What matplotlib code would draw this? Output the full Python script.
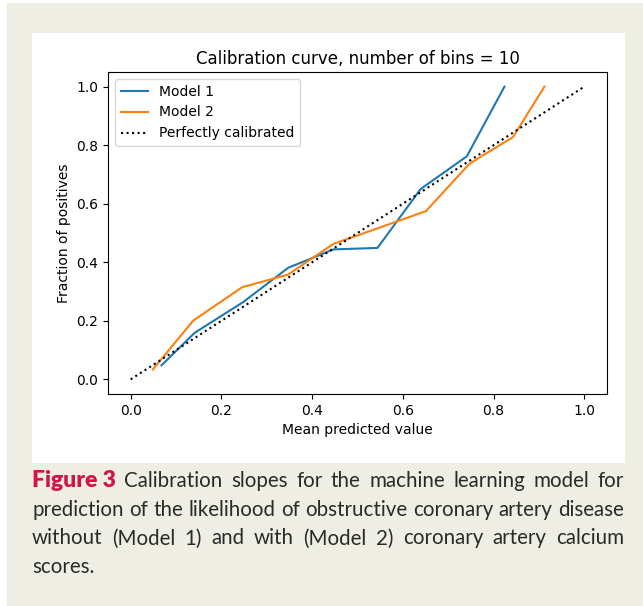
import matplotlib
matplotlib.use("Agg")
import matplotlib.pyplot as plt
from matplotlib.patches import Rectangle
from matplotlib.transforms import IdentityTransform

# calibration data
m1_pred = [0.068, 0.141, 0.248, 0.347, 0.447, 0.544, 0.639, 0.741, 0.824]
m1_frac = [0.048, 0.159, 0.264, 0.381, 0.444, 0.449, 0.650, 0.762, 1.0]
m2_pred = [0.049, 0.138, 0.246, 0.347, 0.447, 0.546, 0.651, 0.747, 0.843, 0.912]
m2_frac = [0.034, 0.201, 0.315, 0.358, 0.463, 0.517, 0.575, 0.737, 0.828, 1.0]
ref_line = [0, 1]

caption_lines = [
    ["Figure 3", "Calibration", "slopes", "for", "the", "machine", "learning", "model", "for"],
    "prediction of the likelihood of obstructive coronary artery disease".split(),
    "without (Model 1) and with (Model 2) coronary artery calcium".split(),
    ["scores."],
]

W, H = 643, 606
fig = plt.figure(figsize=(W / 100, H / 100), dpi=100)
fig.patch.set_facecolor("white")

# beige page and white chart panel
fig.patches.append(Rectangle((7 / W, 0), 1 - 7 / W, 1 - 3 / H, transform=fig.transFigure,
                             facecolor="#efeee4", edgecolor="none", zorder=-2))
fig.patches.append(Rectangle((32 / W, 1 - 463 / H), (625 - 32) / W, (463 - 33) / H,
                             transform=fig.transFigure, facecolor="white", edgecolor="none", zorder=-1))

ax = fig.add_axes([108 / W, 1 - 394 / H, (607 - 108) / W, (394 - 72) / H])
ax.plot(m1_pred, m1_frac, color="#1f77b4", label="Model 1")
ax.plot(m2_pred, m2_frac, color="#ff7f0e", label="Model 2")
ax.plot(ref_line, ref_line, "k:", label="Perfectly calibrated")
ax.set_title("Calibration curve, number of bins = 10")
ax.set_xlabel("Mean predicted value")
ax.set_ylabel("Fraction of positives")
ax.legend(loc="upper left")

# justified caption
renderer = fig.canvas.get_renderer()
x0, x1 = 32, 624
base0, step = H - 487, 28.7
fs = 14.8
for i, words in enumerate(caption_lines):
    y = base0 - i * step
    texts = []
    for j, w in enumerate(words):
        bold = (i == 0 and j == 0)
        t = fig.text(0, y, w, transform=IdentityTransform(), family="Lato",
                     fontsize=16.5 if bold else fs, fontweight="heavy" if bold else "normal",
                     color="#d2144a" if bold else "#2a2a2a", va="baseline", ha="left")
        texts.append(t)
    widths = [t.get_window_extent(renderer).width for t in texts]
    if i < len(caption_lines) - 1 and len(texts) > 1:
        gap = (x1 - x0 - sum(widths)) / (len(texts) - 1)
    else:
        gap = fs * 0.3
    x = x0
    for t, wd in zip(texts, widths):
        t.set_x(x)
        x += wd + gap

fig.savefig("out.png", dpi=100)
